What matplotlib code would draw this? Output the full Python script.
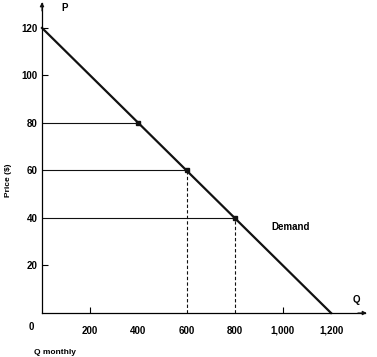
import matplotlib.pyplot as plt

plt.rcParams['font.family'] = ['Liberation Sans', 'DejaVu Sans']

# demand curve
demand_q = [0, 1200]
demand_p = [120, 0]

# highlighted points
point_q = [400, 600, 800]
point_p = [80, 60, 40]
dashed_q = [600, 800]
dashed_p = [60, 40]

x_ticks = [200, 400, 600, 800, 1000, 1200]
x_labels = ['200', '400', '600', '800', '1,000', '1,200']
y_ticks = [20, 40, 60, 80, 100, 120]

W, H = 377, 357
fig = plt.figure(figsize=(W / 100, H / 100), dpi=100)
ax = fig.add_axes([42 / W, 44 / H, (365 - 42) / W, (313 - 3) / H])
ax.set_xlim(0, 1341)
ax.set_ylim(0, 130.5)

for s in ['top', 'right']:
    ax.spines[s].set_visible(False)
for s in ['left', 'bottom']:
    ax.spines[s].set_linewidth(0.9)

ax.plot(demand_q, demand_p, color='#111111', lw=1.6, clip_on=False)
for q, p in zip(point_q, point_p):
    ax.plot([0, q], [p, p], color='#111111', lw=0.8)
for q, p in zip(dashed_q, dashed_p):
    ax.plot([q, q], [0, p], color='#111111', lw=0.8, ls=(0, (3, 2)))
ax.plot(point_q, point_p, 's', color='#111111', ms=3.5)

ax.xaxis.remove_overlapping_locs = False
ax.yaxis.remove_overlapping_locs = False
ax.set_xticks(x_ticks)
ax.set_xticklabels(x_labels)
ax.set_yticks(y_ticks)
ax.set_xticks([200, 1000], minor=True)
ax.set_yticks([20, 100, 120], minor=True)
ax.tick_params(which='major', length=0, labelsize=7)
ax.tick_params(axis='x', which='major', pad=9)
ax.tick_params(axis='y', which='major', pad=3)
ax.tick_params(which='minor', direction='in', length=4, width=0.8)
for lab in ax.get_xticklabels() + ax.get_yticklabels():
    lab.set_fontweight('bold')

# axis arrows
ax.annotate('', xy=(1360, 0), xytext=(1300, 0),
            arrowprops=dict(arrowstyle='-|>', color='#111111', lw=0.8,
                            mutation_scale=6), annotation_clip=False)
ax.annotate('', xy=(0, 132), xytext=(0, 126),
            arrowprops=dict(arrowstyle='-|>', color='#111111', lw=0.8,
                            mutation_scale=6), annotation_clip=False)

ax.text(-45, -6, '0', fontsize=7, fontweight='bold', ha='center', va='center')
ax.text(95, 128.5, 'P', fontsize=7, fontweight='bold', ha='center', va='center')
ax.text(1305, 5.5, 'Q', fontsize=7, fontweight='bold', ha='center', va='center')
ax.text(1030, 36, 'Demand', fontsize=7, fontweight='bold', ha='center', va='center')

fig.text(8 / W, 1 - 180 / H, 'Price ($)', fontsize=6, fontweight='bold',
         rotation=90, ha='center', va='center')
fig.text(55 / W, 1 - 352 / H, 'Q monthly', fontsize=6, fontweight='bold',
         ha='center', va='center')

fig.savefig('out.png', dpi=100)
